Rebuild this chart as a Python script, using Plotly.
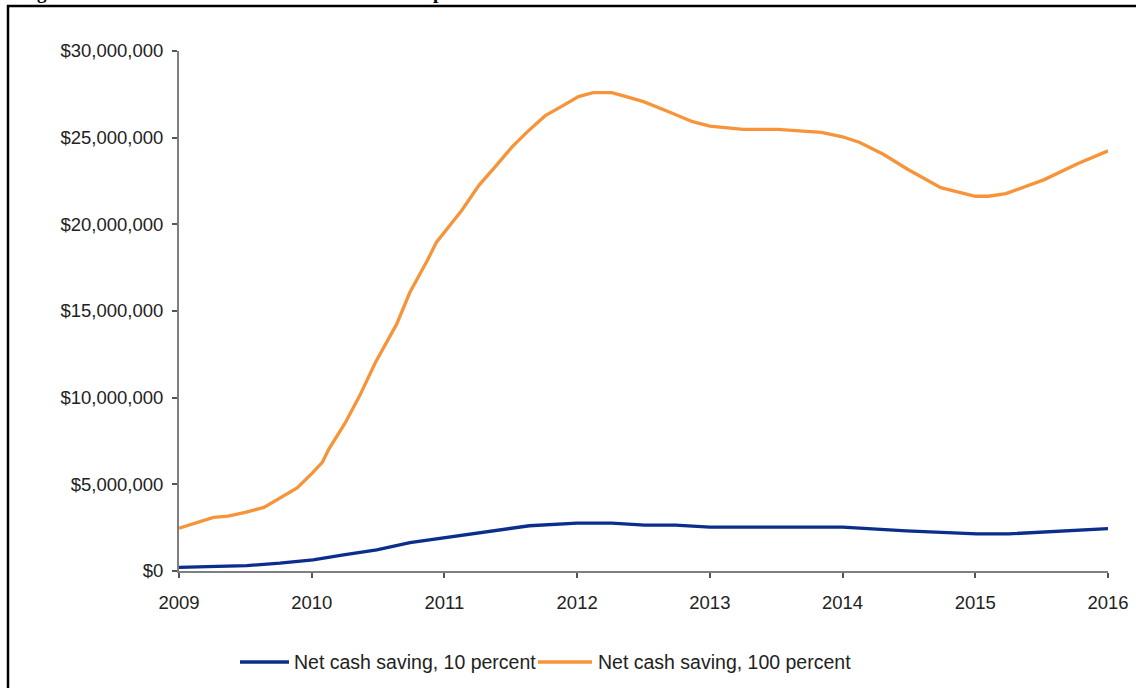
import plotly.graph_objects as go

# ---- data ----
years_10 = [2009.00, 2009.51, 2009.76, 2010.01, 2010.24, 2010.49, 2010.74, 2010.97,
            2011.30, 2011.64, 2012.00, 2012.26, 2012.51, 2012.74, 2013.00, 2014.00,
            2014.48, 2015.01, 2015.25, 2015.65, 2016.00]
saving_10 = [210000, 310000, 450000, 640000, 930000, 1220000, 1640000, 1880000,
             2240000, 2610000, 2760000, 2760000, 2650000, 2650000, 2530000, 2530000,
             2320000, 2140000, 2140000, 2320000, 2450000]

years_100 = [2009.00, 2009.26, 2009.37, 2009.50, 2009.64, 2009.76, 2009.89, 2010.00,
             2010.08, 2010.13, 2010.25, 2010.36, 2010.48, 2010.64, 2010.74, 2010.87,
             2010.94, 2011.13, 2011.26, 2011.38, 2011.51, 2011.63, 2011.76, 2011.88,
             2012.01, 2012.12, 2012.26, 2012.37, 2012.50, 2012.69, 2012.87, 2013.00,
             2013.25, 2013.51, 2013.84, 2014.00, 2014.13, 2014.31, 2014.49, 2014.74,
             2015.00, 2015.10, 2015.23, 2015.52, 2015.77, 2016.00]
saving_100 = [2470000, 3090000, 3170000, 3380000, 3670000, 4200000, 4790000, 5620000,
              6270000, 7050000, 8510000, 10090000, 12030000, 14240000, 16080000, 17900000,
              18970000, 20800000, 22250000, 23300000, 24470000, 25380000, 26270000, 26790000,
              27370000, 27600000, 27600000, 27370000, 27080000, 26500000, 25920000, 25670000,
              25480000, 25480000, 25300000, 25050000, 24720000, 24030000, 23180000, 22120000,
              21620000, 21620000, 21770000, 22580000, 23500000, 24240000]

series_names = ["Net cash saving, 10 percent", "Net cash saving, 100 percent"]
series_colors = ["#0B2D8C", "#F7943A"]
title_text = "Figure 4: NSW Government – net cumulative cash position"

W, H = 1136, 688
ML, MR, MT, MB = 179, 28, 51, 117
PW, PH = W - ML - MR, H - MT - MB


def px(xp):  # page x pixel -> paper fraction
    return (xp - ML) / PW


def py(yp):  # page y pixel -> paper fraction
    return (H - MB - yp) / PH


fig = go.Figure()
fig.add_trace(go.Scatter(x=years_10, y=saving_10, mode="lines", name=series_names[0],
                         line=dict(color=series_colors[0], width=3.3)))
fig.add_trace(go.Scatter(x=years_100, y=saving_100, mode="lines", name=series_names[1],
                         line=dict(color=series_colors[1], width=3.3)))

axis_font = dict(family="Liberation Sans, Arial, sans-serif", size=18.5, color="#222222")
legend_font = dict(family="Liberation Sans, Arial, sans-serif", size=19.5, color="#222222")

# legend drawn as line samples + labels below the plot
legend_items = [(240, 289, 293), (538, 592, 597)]
shapes = [dict(type="rect", xref="paper", yref="paper",
               x0=px(8), x1=px(1150), y0=py(720), y1=py(6),
               line=dict(color="black", width=2.5), fillcolor="rgba(0,0,0,0)")]
annotations = [dict(text="<b>" + title_text + "</b>", xref="paper", yref="paper",
                    x=px(19), xanchor="left", y=py(4), yanchor="bottom",
                    showarrow=False, borderpad=0,
                    font=dict(family="Liberation Serif, Times New Roman, serif", size=19,
                              color="black"))]
for (x0, x1, xt), name, color in zip(legend_items, series_names, series_colors):
    shapes.append(dict(type="line", xref="paper", yref="paper",
                       x0=px(x0), x1=px(x1), y0=py(662), y1=py(662),
                       line=dict(color=color, width=3.5)))
    annotations.append(dict(text=name, xref="paper", yref="paper",
                            x=px(xt), xanchor="left", y=py(662), yanchor="middle",
                            showarrow=False, font=legend_font, borderpad=0))

fig.update_layout(
    width=W, height=H,
    margin=dict(l=ML, r=MR, t=MT, b=MB, autoexpand=False),
    paper_bgcolor="white", plot_bgcolor="white",
    showlegend=False,
    xaxis=dict(range=[2009, 2016], tick0=2009, dtick=1, tickformat="d",
               showgrid=False, zeroline=False, showline=True, linecolor="#7f7f7f", linewidth=2,
               ticks="outside", ticklen=5, tickwidth=1.5, tickcolor="#555555",
               tickfont=axis_font, ticklabelstandoff=9),
    yaxis=dict(range=[0, 30000000], tick0=0, dtick=5000000, tickformat="$,.0f",
               showgrid=False, zeroline=False, showline=True, linecolor="#7f7f7f", linewidth=2,
               ticks="outside", ticklen=5, tickwidth=1.5, tickcolor="#555555",
               tickfont=axis_font, ticklabelstandoff=5),
    shapes=shapes,
    annotations=annotations,
)

fig.write_html("out.html")
